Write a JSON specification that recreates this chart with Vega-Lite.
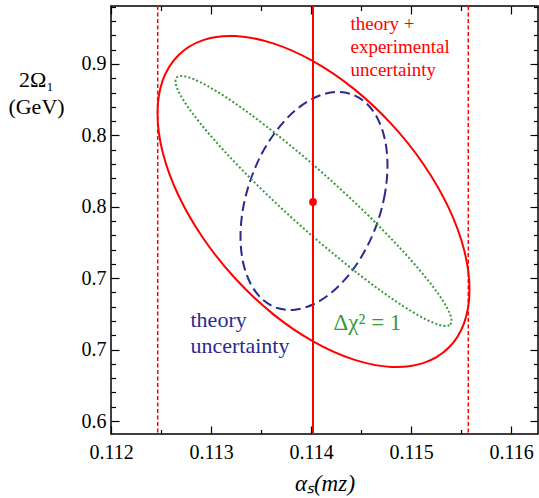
{
  "$schema": "https://vega.github.io/schema/vega-lite/v6.json",
  "width": 427,
  "height": 428,
  "autosize": {"type": "none"},
  "padding": {"left": 111, "top": 6, "right": 1, "bottom": 64},
  "background": "white",
  "config": {
    "view": {"stroke": "black", "strokeWidth": 1.5},
    "font": "Liberation Serif",
    "text": {"font": "Liberation Serif"},
    "axis": {
      "grid": false,
      "domain": false,
      "tickColor": "black",
      "tickWidth": 1.2,
      "labelColor": "black",
      "labelFont": "Liberation Serif",
      "labelFontSize": 20,
      "labelFlush": false,
      "labelOverlap": false,
      "labelBound": false,
      "titleFont": "Liberation Serif",
      "titleFontWeight": "normal",
      "titleColor": "black"
    }
  },
  "datasets": {
    "red": [
      {"i": 0, "x": 0.115585, "y": 0.69202},
      {"i": 1, "x": 0.115532, "y": 0.66877},
      {"i": 2, "x": 0.115376, "y": 0.65126},
      {"i": 3, "x": 0.115128, "y": 0.64069},
      {"i": 4, "x": 0.114805, "y": 0.63789},
      {"i": 5, "x": 0.114429, "y": 0.643},
      {"i": 6, "x": 0.114025, "y": 0.6556},
      {"i": 7, "x": 0.113621, "y": 0.67486},
      {"i": 8, "x": 0.113245, "y": 0.69958},
      {"i": 9, "x": 0.112922, "y": 0.72794},
      {"i": 10, "x": 0.112674, "y": 0.75805},
      {"i": 11, "x": 0.112518, "y": 0.78789},
      {"i": 12, "x": 0.112465, "y": 0.81541},
      {"i": 13, "x": 0.112518, "y": 0.83866},
      {"i": 14, "x": 0.112674, "y": 0.85616},
      {"i": 15, "x": 0.112922, "y": 0.86674},
      {"i": 16, "x": 0.113245, "y": 0.86954},
      {"i": 17, "x": 0.113621, "y": 0.86443},
      {"i": 18, "x": 0.114025, "y": 0.85182},
      {"i": 19, "x": 0.114429, "y": 0.83256},
      {"i": 20, "x": 0.114805, "y": 0.80784},
      {"i": 21, "x": 0.115128, "y": 0.77948},
      {"i": 22, "x": 0.115376, "y": 0.74937},
      {"i": 23, "x": 0.115532, "y": 0.71954}
    ],
    "blue": [
      {"i": 0, "x": 0.114765, "y": 0.77899},
      {"i": 1, "x": 0.11474, "y": 0.75945},
      {"i": 2, "x": 0.114667, "y": 0.73956},
      {"i": 3, "x": 0.11455, "y": 0.72066},
      {"i": 4, "x": 0.114398, "y": 0.70406},
      {"i": 5, "x": 0.11422, "y": 0.69083},
      {"i": 6, "x": 0.11403, "y": 0.68193},
      {"i": 7, "x": 0.11384, "y": 0.67794},
      {"i": 8, "x": 0.113663, "y": 0.67913},
      {"i": 9, "x": 0.11351, "y": 0.68543},
      {"i": 10, "x": 0.113394, "y": 0.69643},
      {"i": 11, "x": 0.11332, "y": 0.71134},
      {"i": 12, "x": 0.113295, "y": 0.72913},
      {"i": 13, "x": 0.11332, "y": 0.74867},
      {"i": 14, "x": 0.113394, "y": 0.76856},
      {"i": 15, "x": 0.11351, "y": 0.78746},
      {"i": 16, "x": 0.113663, "y": 0.80406},
      {"i": 17, "x": 0.11384, "y": 0.8173},
      {"i": 18, "x": 0.11403, "y": 0.82619},
      {"i": 19, "x": 0.11422, "y": 0.83018},
      {"i": 20, "x": 0.114398, "y": 0.82899},
      {"i": 21, "x": 0.11455, "y": 0.82269},
      {"i": 22, "x": 0.114667, "y": 0.81169},
      {"i": 23, "x": 0.11474, "y": 0.79678}
    ],
    "green": [
      {"i": 0, "x": 0.115405, "y": 0.67024},
      {"i": 1, "x": 0.115384, "y": 0.66716},
      {"i": 2, "x": 0.115322, "y": 0.66667},
      {"i": 3, "x": 0.11522, "y": 0.66884},
      {"i": 4, "x": 0.115082, "y": 0.67367},
      {"i": 5, "x": 0.114912, "y": 0.68088},
      {"i": 6, "x": 0.114715, "y": 0.69034},
      {"i": 7, "x": 0.114497, "y": 0.70168},
      {"i": 8, "x": 0.114265, "y": 0.71471},
      {"i": 9, "x": 0.114025, "y": 0.72885},
      {"i": 10, "x": 0.113785, "y": 0.74377},
      {"i": 11, "x": 0.113553, "y": 0.75903},
      {"i": 12, "x": 0.113335, "y": 0.77416},
      {"i": 13, "x": 0.113138, "y": 0.78866},
      {"i": 14, "x": 0.112968, "y": 0.8021},
      {"i": 15, "x": 0.11283, "y": 0.81408},
      {"i": 16, "x": 0.112728, "y": 0.82423},
      {"i": 17, "x": 0.112666, "y": 0.83221},
      {"i": 18, "x": 0.112645, "y": 0.83788},
      {"i": 19, "x": 0.112666, "y": 0.84097},
      {"i": 20, "x": 0.112728, "y": 0.84146},
      {"i": 21, "x": 0.11283, "y": 0.83929},
      {"i": 22, "x": 0.112968, "y": 0.83445},
      {"i": 23, "x": 0.113138, "y": 0.82724},
      {"i": 24, "x": 0.113335, "y": 0.81779},
      {"i": 25, "x": 0.113553, "y": 0.80637},
      {"i": 26, "x": 0.113785, "y": 0.79342},
      {"i": 27, "x": 0.114025, "y": 0.77927},
      {"i": 28, "x": 0.114265, "y": 0.76429},
      {"i": 29, "x": 0.114497, "y": 0.74909},
      {"i": 30, "x": 0.114715, "y": 0.73396},
      {"i": 31, "x": 0.114912, "y": 0.71947},
      {"i": 32, "x": 0.115082, "y": 0.70602},
      {"i": 33, "x": 0.11522, "y": 0.69405},
      {"i": 34, "x": 0.115322, "y": 0.68389},
      {"i": 35, "x": 0.115384, "y": 0.67591}
    ],
    "bounds": [{"x": 0.112467}, {"x": 0.115573}],
    "central": [{"x": 0.11402, "y": 0.7534}]
  },
  "layer": [
    {
      "layer": [
        {
          "data": {"name": "red"},
          "mark": {"type": "line", "interpolate": "cardinal-closed", "stroke": "#ff0000", "strokeWidth": 2},
          "encoding": {
            "x": {
              "field": "x", "type": "quantitative",
              "scale": {"domain": [0.112, 0.11627], "zero": false, "nice": false},
              "axis": {
                "orient": "bottom",
                "values": [0.112, 0.113, 0.114, 0.115, 0.116],
                "format": ".3f",
                "tickSize": 8,
                "offset": -8,
                "labelPadding": 8,
                "labelOverlap": false,
                "labelFlush": false,
                "title": "αₛ(mᴢ)",
                "titleFontStyle": "italic",
                "titleFontSize": 23,
                "titlePadding": 10
              }
            },
            "y": {
              "field": "y", "type": "quantitative",
              "scale": {"domain": [0.5909, 0.8906], "zero": false, "nice": false},
              "axis": {
                "orient": "left",
                "values": [0.6, 0.65, 0.7, 0.75, 0.8, 0.85],
                "labelExpr": "format(ceil(datum.value*10 - 0.01)/10, '.1f')",
                "tickSize": 8,
                "offset": -8,
                "labelPadding": 5,
                "labelOverlap": false,
                "labelFlush": false,
                "title": ["2Ω₁", "(GeV)"],
                "titleAngle": 0,
                "titleAlign": "center",
                "titleBaseline": "alphabetic",
                "titleX": -83,
                "titleY": 80,
                "titleFontSize": 22,
                "titleLineHeight": 27
              }
            },
            "order": {"field": "i"}
          }
        },
        {
          "data": {"name": "blue"},
          "mark": {"type": "line", "interpolate": "cardinal-closed", "stroke": "#2a2a90", "strokeWidth": 2, "strokeDash": [10, 5]},
          "encoding": {
            "x": {"field": "x", "type": "quantitative"},
            "y": {"field": "y", "type": "quantitative"},
            "order": {"field": "i"}
          }
        },
        {
          "data": {"name": "green"},
          "mark": {"type": "line", "interpolate": "cardinal-closed", "stroke": "#3a9a3a", "strokeWidth": 2, "strokeDash": [2, 2.2]},
          "encoding": {
            "x": {"field": "x", "type": "quantitative"},
            "y": {"field": "y", "type": "quantitative"},
            "order": {"field": "i"}
          }
        },
        {
          "data": {"name": "bounds"},
          "mark": {"type": "rule", "stroke": "#ff0000", "strokeWidth": 1.5, "strokeDash": [4, 2.5]},
          "encoding": {"x": {"field": "x", "type": "quantitative"}}
        },
        {
          "data": {"name": "central"},
          "mark": {"type": "rule", "stroke": "#ff0000", "strokeWidth": 2},
          "encoding": {"x": {"field": "x", "type": "quantitative"}}
        },
        {
          "data": {"values": [{"x": 0.114395, "y": 0.87381, "label": "theory +\nexperimental\nuncertainty"}]},
          "mark": {"type": "text", "align": "left", "baseline": "alphabetic", "lineBreak": "\n", "lineHeight": 23, "fontSize": 19, "color": "#ff0000", "font": "Liberation Serif"},
          "encoding": {
            "x": {"field": "x", "type": "quantitative"},
            "y": {"field": "y", "type": "quantitative"},
            "text": {"field": "label"}
          }
        },
        {
          "data": {"values": [{"x": 0.112795, "y": 0.66583, "label": "theory\nuncertainty"}]},
          "mark": {"type": "text", "align": "left", "baseline": "alphabetic", "lineBreak": "\n", "lineHeight": 26, "fontSize": 22, "color": "#2a2a90", "font": "Liberation Serif"},
          "encoding": {
            "x": {"field": "x", "type": "quantitative"},
            "y": {"field": "y", "type": "quantitative"},
            "text": {"field": "label"}
          }
        },
        {
          "data": {"values": [{"x": 0.114225, "y": 0.66373, "label": "Δχ² = 1"}]},
          "mark": {"type": "text", "align": "left", "baseline": "alphabetic", "fontSize": 23, "color": "#3a9a3a", "font": "Liberation Serif"},
          "encoding": {
            "x": {"field": "x", "type": "quantitative"},
            "y": {"field": "y", "type": "quantitative"},
            "text": {"field": "label"}
          }
        }
      ]
    },
    {
      "data": {"name": "central"},
      "mark": {"type": "point", "filled": true, "opacity": 0},
      "encoding": {
        "x": {
          "field": "x", "type": "quantitative",
          "scale": {"domain": [0.112, 0.11627], "zero": false, "nice": false},
          "axis": {"orient": "bottom", "values": [0.1125, 0.1135, 0.1145, 0.1155], "labels": false, "title": null, "tickSize": 4.5, "offset": -4.5}
        },
        "y": {
          "field": "y", "type": "quantitative",
          "scale": {"domain": [0.5909, 0.8906], "zero": false, "nice": false},
          "axis": {"orient": "left", "values": [0.61, 0.62, 0.63, 0.64, 0.66, 0.67, 0.68, 0.69, 0.71, 0.72, 0.73, 0.74, 0.76, 0.77, 0.78, 0.79, 0.81, 0.82, 0.83, 0.84, 0.86, 0.87, 0.88, 0.89], "labels": false, "title": null, "tickSize": 4.5, "offset": -4.5}
        }
      }
    },
    {
      "data": {"name": "central"},
      "mark": {"type": "point", "filled": true, "opacity": 0},
      "encoding": {
        "x": {
          "field": "x", "type": "quantitative",
          "scale": {"domain": [0.112, 0.11627], "zero": false, "nice": false},
          "axis": {"orient": "top", "values": [0.112, 0.113, 0.114, 0.115, 0.116], "labels": false, "title": null, "tickSize": 8, "offset": -8}
        },
        "y": {
          "field": "y", "type": "quantitative",
          "scale": {"domain": [0.5909, 0.8906], "zero": false, "nice": false},
          "axis": {"orient": "right", "values": [0.6, 0.65, 0.7, 0.75, 0.8, 0.85], "labels": false, "title": null, "tickSize": 8, "offset": -8}
        }
      }
    },
    {
      "data": {"name": "central"},
      "mark": {"type": "point", "filled": true, "color": "#ff0000", "size": 60, "opacity": 1},
      "encoding": {
        "x": {
          "field": "x", "type": "quantitative",
          "scale": {"domain": [0.112, 0.11627], "zero": false, "nice": false},
          "axis": {"orient": "top", "values": [0.1125, 0.1135, 0.1145, 0.1155], "labels": false, "title": null, "tickSize": 4.5, "offset": -4.5}
        },
        "y": {
          "field": "y", "type": "quantitative",
          "scale": {"domain": [0.5909, 0.8906], "zero": false, "nice": false},
          "axis": {"orient": "right", "values": [0.61, 0.62, 0.63, 0.64, 0.66, 0.67, 0.68, 0.69, 0.71, 0.72, 0.73, 0.74, 0.76, 0.77, 0.78, 0.79, 0.81, 0.82, 0.83, 0.84, 0.86, 0.87, 0.88, 0.89], "labels": false, "title": null, "tickSize": 4.5, "offset": -4.5}
        }
      }
    }
  ],
  "resolve": {"axis": {"x": "independent", "y": "independent"}}
}
